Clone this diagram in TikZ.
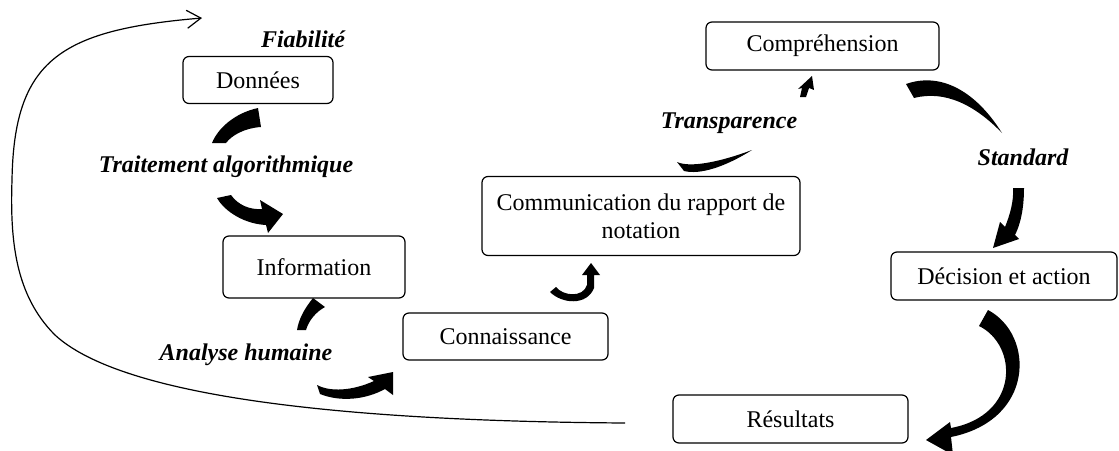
\documentclass[tikz,border=0pt]{standalone}
\usepackage{fontspec}
\setmainfont{Liberation Serif}
\usetikzlibrary{arrows.meta}

\begin{document}
\begin{tikzpicture}[
        x=0.5pt, y=-0.5pt,
        etape/.style={rectangle, draw=black, line width=0.6pt, rounded corners=3pt,
                      align=center, font=\fontsize{12}{14}\selectfont, inner sep=0pt},
        critere/.style={font=\fontsize{12}{14}\selectfont\bfseries\itshape},
        bloc/.style={fill=black},
        retour/.style={->, >={Straight Barb[length=7pt,width=9pt]}, line width=0.6pt},
    ]
    \useasboundingbox (0,0) rectangle (1119,450);

    % étapes du cycle
    \node[etape, minimum width=75pt, minimum height=23.5pt] (donnees) at (258,80) {Données};
    \node[etape, minimum width=91pt, minimum height=31pt] (info) at (314,267) {Information};
    \node[etape, minimum width=102.5pt, minimum height=23.5pt] (connaissance) at (505.5,336.5) {Connaissance};
    \node[etape, minimum width=159pt, minimum height=39.5pt] (comm) at (641,216)
        {Communication du rapport de\\notation};
    \node[etape, minimum width=116.5pt, minimum height=24pt] (comprehension) at (822.5,46) {Compréhension};
    \node[etape, minimum width=113pt, minimum height=24pt] (decision) at (1004,276) {Décision et action};
    \node[etape, minimum width=117.5pt, minimum height=24pt] (resultats) at (790.5,419) {Résultats};

    % critères
    \node[critere] (fiab) at (303,39) {Fiabilité};
    \node[critere] (trait) at (226,167) {Traitement algorithmique};
    \node[critere] (analyse) at (246,355) {Analyse humaine};
    \node[critere] (transp) at (729,123) {Transparence};
    \node[critere] (standard) at (1023,157) {Standard};

    % flèches courbes pleines
    \fill[bloc] (258,108) .. controls (235,113) and (218,128) .. (212,143) -- (226,143)
        .. controls (232,135) and (245,128) .. (261,127) -- cycle;
    \fill[bloc] (217,198) .. controls (225,212) and (245,224) .. (266,225) -- (268,233) -- (283,214)
        -- (260,200) -- (262,209) .. controls (250,210) and (238,205) .. (231,195) -- cycle;
    \fill[bloc] (313,298) .. controls (305,308) and (299,318) .. (297,330) -- (306,330)
        .. controls (309,320) and (316,312) .. (325,307) -- cycle;
    \fill[bloc] (317,385) .. controls (330,392) and (352,391) .. (374,381) -- (368,377) -- (393,372)
        -- (393,395) -- (385,389) .. controls (365,400) and (340,402) .. (320,394) -- cycle;
    \fill[bloc] (556,287) .. controls (563,296) and (583,298) .. (587,285) -- (587,275) -- (582,275)
        -- (591,263) -- (600,275) -- (594,275) -- (594,288) .. controls (587,306) and (562,304) .. (550,292) -- cycle;
    \fill[bloc] (677,162) .. controls (690,168) and (720,162) .. (752,150)
        .. controls (725,167) and (700,175) .. (684,171) -- cycle;
    \fill[bloc] (800,97) -- (802,88) -- (798,89) -- (812,76) -- (814,90) -- (809,88) -- (806,97) -- cycle;
    \fill[bloc] (906,84) .. controls (940,72) and (975,90) .. (1002,133)
        .. controls (975,105) and (945,90) .. (914,98) -- cycle;
    \fill[bloc] (1013,188) -- (1024,188) .. controls (1024,210) and (1020,225) .. (1015,235) -- (1019,239)
        -- (993,248) -- (1000,222) -- (1005,227) .. controls (1010,215) and (1014,200) .. (1013,188) -- cycle;
    \fill[bloc] (988,310) .. controls (1035,335) and (1035,420) .. (951,437) -- (953,455) -- (926,440)
        -- (950,422) -- (951,428) .. controls (1020,415) and (1018,345) .. (979,326) -- cycle;

    % retour vers le début
    \coordinate (retourdep) at (625,423);
    \coordinate (retourfin) at (202,18);
    \draw[retour] (retourdep) .. controls (330,421) and (120,395) .. (55,335)
        .. controls (15,295) and (10,240) .. (12,180)
        .. controls (14,60) and (60,30) .. (retourfin);

\end{tikzpicture}
\end{document}
